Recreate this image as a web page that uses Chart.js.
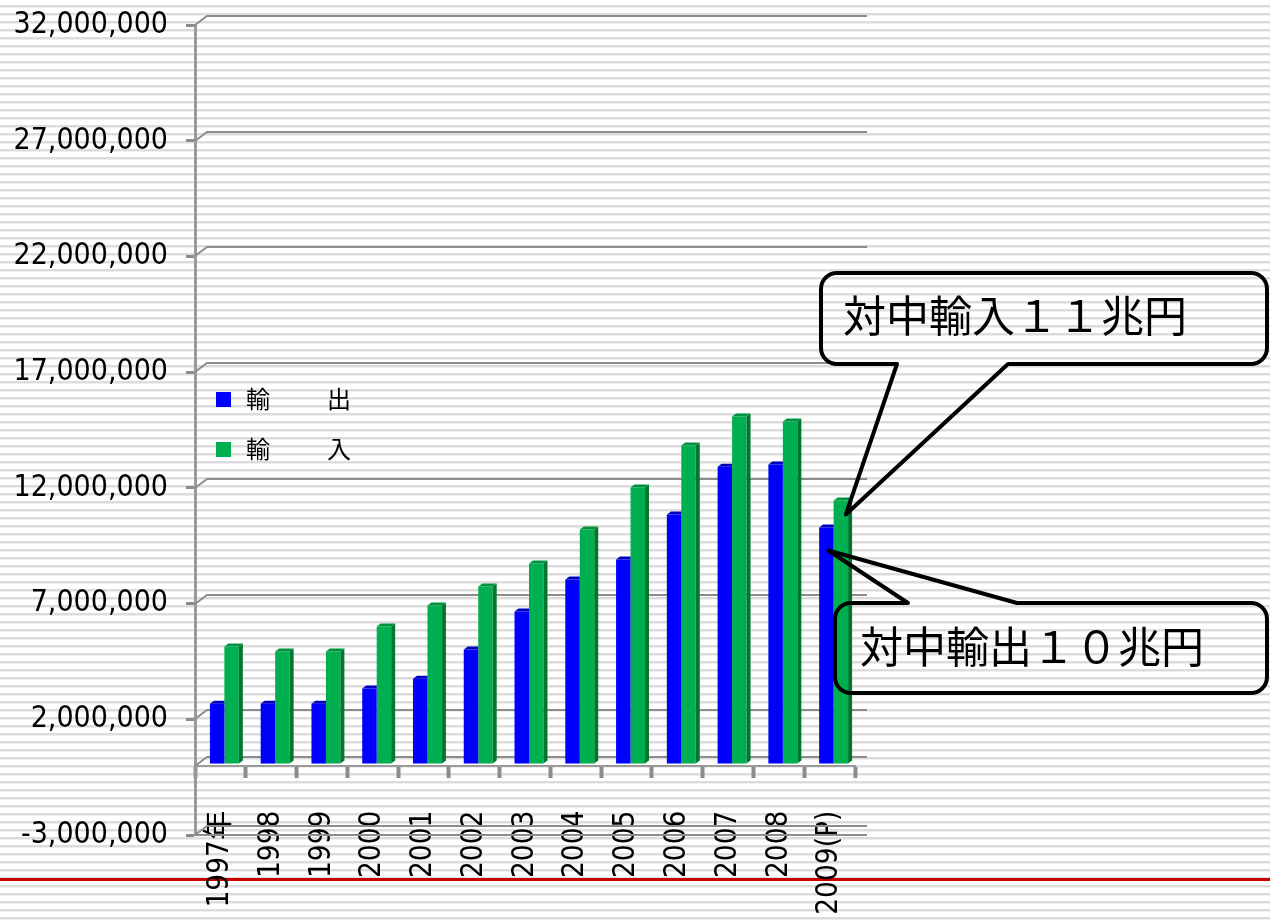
<!DOCTYPE html>
<html lang="ja">
<head>
<meta charset="utf-8">
<script src="https://cdn.jsdelivr.net/npm/chart.js@4.4.1/dist/chart.umd.min.js"></script>
<style>
  html, body { margin: 0; padding: 0; }
  body {
    width: 1270px; height: 922px; overflow: hidden;
    background: repeating-linear-gradient(to bottom, #ffffff 0px, #ffffff 5px, #dcdcdc 5px, #dcdcdc 7px, #eeeeee 7px, #eeeeee 8px);
  }
</style>
</head>
<body>
<canvas id="tradeChart" width="1270" height="922"></canvas>
<script>
// categories and series (units as on the axis)
const years = ["1997年", "1998", "1999", "2000", "2001", "2002", "2003", "2004", "2005", "2006", "2007", "2008", "2009(P)"];
const exportLabel = "輸　　出";
const importLabel = "輸　　入";
const exportValues = [2590000, 2590000, 2590000, 3240000, 3670000, 4930000, 6570000, 7950000, 8820000, 10760000, 12830000, 12920000, 10200000];
const importValues = [5060000, 4840000, 4840000, 5920000, 6830000, 7650000, 8640000, 10110000, 11930000, 13740000, 15000000, 14780000, 11370000];

// y axis tick labels: -3,000,000 .. 32,000,000
const yMin = -3000000;
const yMax = 32000000;
const yStep = 5000000;

const importNote = "対中輸入１１兆円";
const exportNote = "対中輸出１０兆円";

const numFont = '"DejaVu Sans Condensed", "DejaVu Sans", "Noto Sans CJK JP", sans-serif';
const jpFont = '"Noto Sans CJK JP", sans-serif';

// 3d look
const wallDX = 12, wallDY = 9;   // back wall offset
const barDX = 4, barDY = 3;      // bar depth
const barShiftX = 4, barShiftY = -2;

// red rule across the slide
const redRule = {
  id: "redRule",
  beforeDraw(chart) {
    const ctx = chart.ctx;
    ctx.save();
    ctx.fillStyle = "#cc0000";
    ctx.fillRect(0, 878, chart.width, 3);
    ctx.restore();
  }
};

// back wall grid lines with the little diagonal from the axis
const backWall = {
  id: "backWall",
  beforeDatasetsDraw(chart) {
    const { ctx, chartArea, scales: { y } } = chart;
    const vals = y.ticks.map(t => t.value).concat([0]);
    ctx.save();
    ctx.strokeStyle = "#8c8c8c";
    ctx.lineWidth = 2;
    vals.forEach(v => {
      const py = Math.round(y.getPixelForValue(v));
      ctx.beginPath();
      ctx.moveTo(chartArea.left, py);
      ctx.lineTo(chartArea.left + wallDX, py - wallDY);
      ctx.lineTo(chartArea.right + wallDX, py - wallDY);
      ctx.stroke();
    });
    // front edge of floor
    ctx.beginPath();
    ctx.moveTo(chartArea.left, chartArea.bottom);
    ctx.lineTo(chartArea.right + wallDX, chartArea.bottom);
    ctx.stroke();
    ctx.restore();
  }
};

// shift bars a bit into the wall and add top / side faces
const bars3d = {
  id: "bars3d",
  beforeDatasetsDraw(chart) {
    chart.ctx.save();
    chart.ctx.translate(barShiftX, barShiftY);
  },
  afterDatasetDraw(chart, args) {
    const ctx = chart.ctx;
    const ds = chart.data.datasets[args.index];
    args.meta.data.forEach(bar => {
      const { x, y, base, width } = bar.getProps(["x", "y", "base", "width"], true);
      const l = x - width / 2, r = x + width / 2;
      ctx.fillStyle = ds.topColor;
      ctx.beginPath();
      ctx.moveTo(l, y);
      ctx.lineTo(l + barDX, y - barDY);
      ctx.lineTo(ds.sideColor ? r + barDX : r, y - barDY);
      ctx.lineTo(r, y);
      ctx.closePath();
      ctx.fill();
      if (ds.sideColor) {
        ctx.fillStyle = ds.sideColor;
        ctx.beginPath();
        ctx.moveTo(r, y);
        ctx.lineTo(r + barDX, y - barDY);
        ctx.lineTo(r + barDX, base - barDY);
        ctx.lineTo(r, base);
        ctx.closePath();
        ctx.fill();
      }
    });
  },
  afterDatasetsDraw(chart) {
    chart.ctx.restore();
  }
};

// legend sitting inside the plot
const insideLegend = {
  id: "insideLegend",
  afterDraw(chart) {
    const ctx = chart.ctx;
    ctx.save();
    ctx.font = "24px " + jpFont;
    ctx.textBaseline = "middle";
    ctx.letterSpacing = "3px";
    chart.data.datasets.forEach((ds, i) => {
      const cy = 399 + i * 50;
      ctx.fillStyle = ds.backgroundColor;
      ctx.fillRect(216, cy - 7, 15, 15);
      ctx.fillStyle = "#000";
      ctx.fillText(ds.label, 246, cy);
    });
    ctx.restore();
  }
};

function bubble(ctx, box, b1, b2, tip, onTop) {
  const { x, y, w, h, r } = box;
  ctx.beginPath();
  ctx.moveTo(x + r, y);
  if (onTop) { ctx.lineTo(b1, y); ctx.lineTo(tip.x, tip.y); ctx.lineTo(b2, y); }
  ctx.lineTo(x + w - r, y);
  ctx.arcTo(x + w, y, x + w, y + r, r);
  ctx.lineTo(x + w, y + h - r);
  ctx.arcTo(x + w, y + h, x + w - r, y + h, r);
  if (!onTop) { ctx.lineTo(b2, y + h); ctx.lineTo(tip.x, tip.y); ctx.lineTo(b1, y + h); }
  ctx.lineTo(x + r, y + h);
  ctx.arcTo(x, y + h, x, y + h - r, r);
  ctx.lineTo(x, y + r);
  ctx.arcTo(x, y, x + r, y, r);
  ctx.closePath();
  ctx.stroke();
}

// the two call-outs pointing at 2009
const callouts = {
  id: "callouts",
  afterDraw(chart) {
    const ctx = chart.ctx;
    const last = years.length - 1;
    const exp = chart.getDatasetMeta(0).data[last];
    const imp = chart.getDatasetMeta(1).data[last];
    ctx.save();
    ctx.strokeStyle = "#000";
    ctx.lineWidth = 4;
    ctx.lineJoin = "round";
    bubble(ctx, { x: 821, y: 273, w: 446, h: 91, r: 16 }, 897, 1008,
      { x: imp.x + barShiftX + 5, y: imp.y + 12 }, false);
    bubble(ctx, { x: 835, y: 603, w: 432, h: 90, r: 16 }, 908, 1017,
      { x: exp.x + barShiftX + 2, y: exp.y + 21 }, true);
    ctx.fillStyle = "#000";
    ctx.font = "43px " + jpFont;
    ctx.textBaseline = "middle";
    ctx.fillText(importNote, 843, 316);
    ctx.fillText(exportNote, 860, 647);
    ctx.restore();
  }
};

const ctx = document.getElementById("tradeChart").getContext("2d");
new Chart(ctx, {
  type: "bar",
  data: {
    labels: years,
    datasets: [
      {
        label: exportLabel,
        data: exportValues,
        backgroundColor: "#0000ff",
        topColor: "#0000c0",
        borderWidth: 0,
        categoryPercentage: 0.57,
        barPercentage: 1.0
      },
      {
        label: importLabel,
        data: importValues,
        backgroundColor: "#00b050",
        topColor: "#00933f",
        sideColor: "#00772f",
        borderWidth: 0,
        categoryPercentage: 0.57,
        barPercentage: 1.0
      }
    ]
  },
  options: {
    responsive: false,
    animation: false,
    devicePixelRatio: 1,
    layout: { padding: { left: 15, right: 415, top: 25, bottom: 87 } },
    plugins: {
      legend: { display: false },
      tooltip: { enabled: false }
    },
    scales: {
      x: {
        position: { y: 0 },
        afterFit(scale) { scale.paddingTop = 0; scale.paddingBottom = 0; },
        grid: {
          drawOnChartArea: false,
          drawTicks: true,
          tickLength: 11,
          tickWidth: 4,
          tickColor: "#8c8c8c"
        },
        border: { display: true, color: "#9a9a9a", width: 2 },
        ticks: {
          autoSkip: false,
          minRotation: 90,
          maxRotation: 90,
          padding: 34,
          color: "#000",
          font: { family: numFont, size: 29.5 }
        }
      },
      y: {
        min: yMin,
        max: yMax,
        afterFit(scale) {
          scale.width = 180;
          scale.paddingTop = 0;
          scale.paddingBottom = 0;
        },
        grid: {
          drawOnChartArea: false,
          drawTicks: true,
          tickLength: 9,
          tickWidth: 3,
          tickColor: "#8c8c8c"
        },
        border: { display: true, color: "#9a9a9a", width: 3 },
        ticks: {
          stepSize: yStep,
          padding: 18,
          color: "#000",
          font: { family: numFont, size: 30 },
          callback: v => v.toLocaleString("en-US")
        }
      }
    }
  },
  plugins: [redRule, backWall, bars3d, insideLegend, callouts]
});
</script>
</body>
</html>
